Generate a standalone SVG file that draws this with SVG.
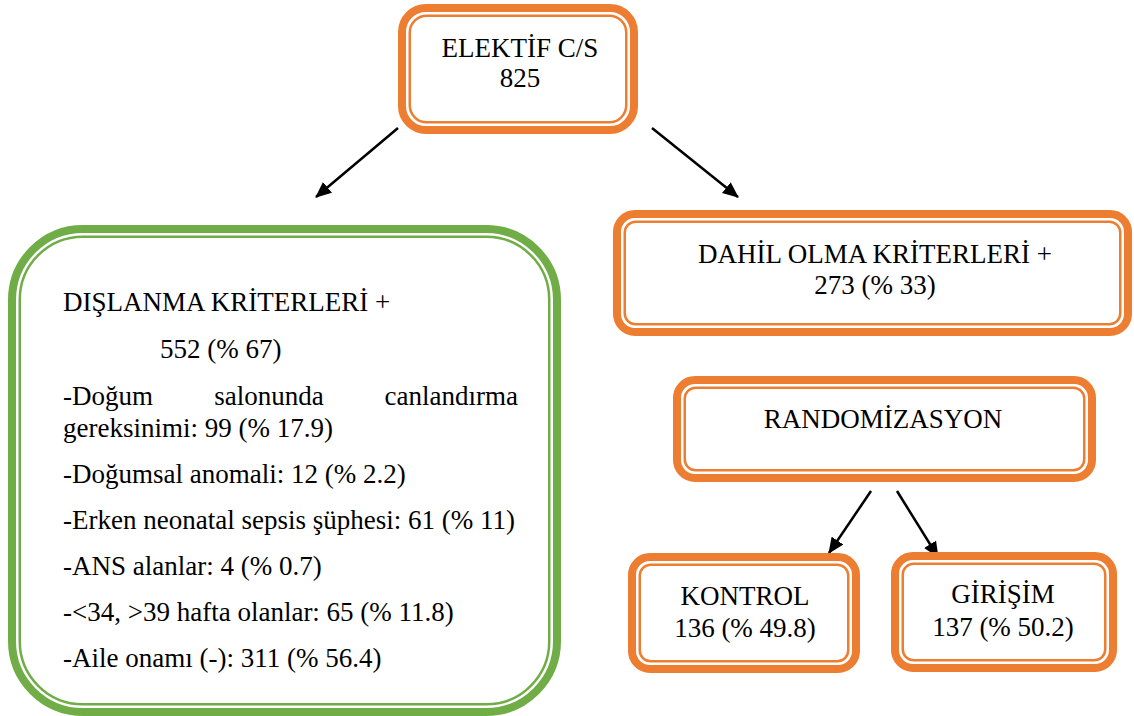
<svg xmlns="http://www.w3.org/2000/svg" width="1134" height="716" viewBox="0 0 1134 716">
<defs>
<style>
.o{fill:#fff;stroke:#ED7D31;stroke-width:8}
.oi{fill:none;stroke:#ED7D31;stroke-width:2.5}
.g{fill:#fff;stroke:#70AD47;stroke-width:8}
.gi{fill:none;stroke:#70AD47;stroke-width:2.5}
.t{font-family:'Liberation Serif','Times New Roman',serif;font-size:27px;fill:#000}
.c{text-anchor:middle}
.a{stroke:#000;stroke-width:2.5;fill:none;marker-end:url(#ah)}
</style>
<marker id="ah" markerUnits="userSpaceOnUse" markerWidth="16" markerHeight="14" refX="15" refY="7" orient="auto" viewBox="0 0 16 14">
<path d="M0,0 L16,7 L0,14 z" fill="#000"/>
</marker>
</defs>
<rect width="1134" height="716" fill="#fff"/>
<g id="connectors">
<line class="a" x1="398" y1="128" x2="316" y2="197"/>
<line class="a" x1="652" y1="128" x2="738" y2="197"/>
<line class="a" x1="871" y1="491" x2="829" y2="553"/>
<line class="a" x1="897" y1="491" x2="938" y2="557"/>
</g>
<g id="elektif">
<rect class="o" x="402" y="8" width="232" height="122" rx="24"/>
<rect class="oi" x="409.75" y="15.75" width="216.5" height="106.5" rx="17"/>
<text class="t c" x="520" y="57">ELEKTİF C/S</text>
<text class="t c" x="520" y="87">825</text>
</g>
<g id="dislanma">
<rect class="g" x="12" y="229" width="545" height="483" rx="71"/>
<rect class="gi" x="19.75" y="236.75" width="529.5" height="467.5" rx="63"/>
<text class="t" x="63" y="311">DIŞLANMA KRİTERLERİ +</text>
<text class="t" x="160" y="358">552 (% 67)</text>
<text class="t" x="63" y="405">-Doğum</text>
<text class="t c" x="269" y="405">salonunda</text>
<text class="t" x="518" y="405" text-anchor="end">canlandırma</text>
<text class="t" x="63" y="437">gereksinimi: 99 (% 17.9)</text>
<text class="t" x="63" y="483">-Doğumsal anomali: 12 (% 2.2)</text>
<text class="t" x="63" y="529">-Erken neonatal sepsis şüphesi: 61 (% 11)</text>
<text class="t" x="63" y="575">-ANS alanlar: 4 (% 0.7)</text>
<text class="t" x="63" y="621">-&lt;34, &gt;39 hafta olanlar: 65 (% 11.8)</text>
<text class="t" x="63" y="667">-Aile onamı (-): 311 (% 56.4)</text>
</g>
<g id="dahil">
<rect class="o" x="617" y="214" width="511" height="118" rx="18"/>
<rect class="oi" x="624.75" y="221.75" width="495.5" height="102.5" rx="11"/>
<text class="t c" x="875" y="263">DAHİL OLMA KRİTERLERİ +</text>
<text class="t c" x="875" y="294">273 (% 33)</text>
</g>
<g id="randomizasyon">
<rect class="o" x="677" y="380" width="415" height="98" rx="18"/>
<rect class="oi" x="684.75" y="387.75" width="399.5" height="82.5" rx="11"/>
<text class="t c" x="883" y="428">RANDOMİZASYON</text>
</g>
<g id="kontrol">
<rect class="o" x="632" y="557" width="224" height="112" rx="18"/>
<rect class="oi" x="639.75" y="564.75" width="208.5" height="96.5" rx="11"/>
<text class="t c" x="745" y="605">KONTROL</text>
<text class="t c" x="745" y="637">136 (% 49.8)</text>
</g>
<g id="girisim">
<rect class="o" x="895" y="556" width="218" height="112" rx="18"/>
<rect class="oi" x="902.75" y="563.75" width="202.5" height="96.5" rx="11"/>
<text class="t c" x="1003" y="603">GİRİŞİM</text>
<text class="t c" x="1003" y="636">137 (% 50.2)</text>
</g>
</svg>
